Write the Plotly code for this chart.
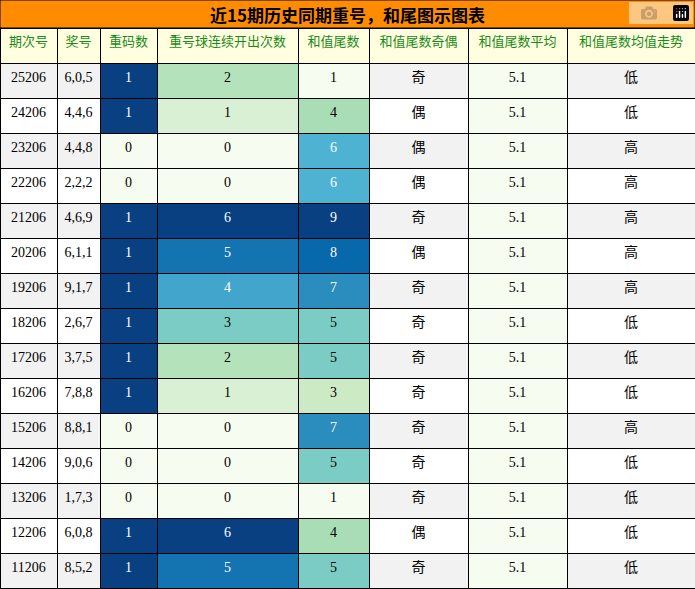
import plotly.graph_objects as go
from plotly.colors import sample_colorscale

title = "近15期历史同期重号，和尾图示图表"
headers = ["期次号","奖号","重码数","重号球连续开出次数","和值尾数","和值尾数奇偶","和值尾数平均","和值尾数均值走势"]
periods = ["25206","24206","23206","22206","21206","20206","19206","18206","17206","16206","15206","14206","13206","12206","11206"]
numbers = ["6,0,5","4,4,6","4,4,8","2,2,2","4,6,9","6,1,1","9,1,7","2,6,7","3,7,5","7,8,8","8,8,1","9,0,6","1,7,3","6,0,8","8,5,2"]
repeat = [1,1,0,0,1,1,1,1,1,1,0,0,0,1,1]
consec = [2,1,0,0,6,5,4,3,2,1,0,0,0,6,5]
tail = [1,4,6,6,9,8,7,5,5,3,7,5,1,4,5]
parity = ["奇","偶","偶","偶","奇","偶","奇","奇","奇","奇","奇","奇","奇","偶","奇"]
avg = [5.1]*15
trend = ["低","低","高","高","高","高","高","低","低","低","高","低","低","低","低"]

def scale(vals, lo, hi):
    t = [(v-lo)/(hi-lo) if hi > lo else 0 for v in vals]
    fills = sample_colorscale("GnBu", t)
    fonts = ["white" if x > 0.55 else "black" for x in t]
    return fills, fonts

alt = ["#f2f2f2" if i % 2 == 0 else "white" for i in range(15)]
f_rep, c_rep = scale(repeat, 0, 1)
f_con, c_con = scale(consec, 0, 6)
f_tail, c_tail = scale(tail, 1, 9)
f_avg = ["#f7fcf0"]*15

fills = [alt, alt, f_rep, f_con, f_tail, alt, f_avg, alt]
fontcols = [["black"]*15, ["black"]*15, c_rep, c_con, c_tail, ["black"]*15, ["black"]*15, ["black"]*15]
fam = ["Liberation Serif"]*5 + ["Noto Sans CJK SC", "Liberation Serif", "Noto Sans CJK SC"]

top = 561/589
fig = go.Figure(go.Table(
    columnwidth=[57,43,57,141,71,99,99,128],
    domain=dict(x=[0,1], y=[0, top]),
    header=dict(values=headers, fill_color="#ffffe0", line_color="black",
                font=dict(color="#1a8a1a", size=13, family="Noto Sans CJK SC"),
                height=35, align="center"),
    cells=dict(values=[periods, numbers, repeat, consec, tail, parity, [f"{a:.1f}" for a in avg], trend],
               fill_color=fills, line_color="black",
               font=dict(color=fontcols, size=14, family=fam),
               height=35, align="center"),
))
fig.add_shape(type="rect", xref="paper", yref="paper", x0=0, x1=1, y0=top, y1=1,
              fillcolor="#ff8c00", line=dict(color="black", width=1))
fig.add_annotation(text=f"<b>{title}</b>", xref="paper", yref="paper", x=0.5, y=(1+top)/2,
                   yanchor="middle", xanchor="center",
                   showarrow=False, font=dict(size=17, color="black", family="Noto Sans CJK SC"))
fig.update_layout(width=695, height=589, margin=dict(l=0, r=0, t=0, b=0), paper_bgcolor="white")
fig.write_html("out.html", post_script="document.body.style.margin='0';")
